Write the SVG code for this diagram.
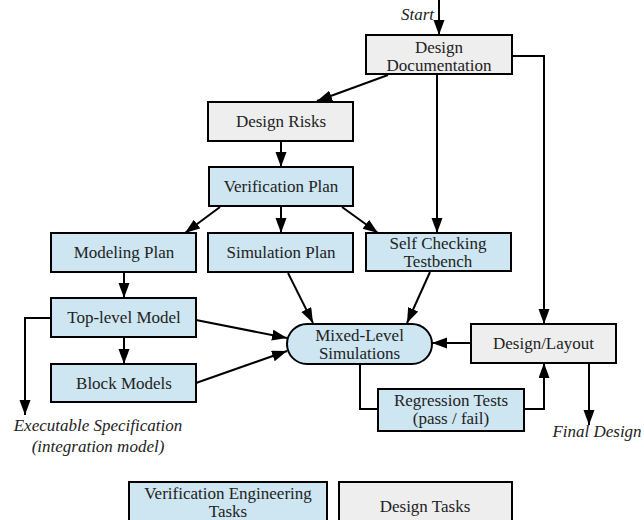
<svg xmlns="http://www.w3.org/2000/svg" width="644" height="520" viewBox="0 0 644 520" font-family="'Liberation Serif', 'Times New Roman', 'DejaVu Serif', serif">
<style>
.v{fill:#cde6f1;stroke:#000;stroke-width:2}
.d{fill:#eeeeee;stroke:#000;stroke-width:2}
text{font-size:17px;fill:#222;text-anchor:middle}
.i{font-style:italic}
.c{fill:none;stroke:#000;stroke-width:2}
</style>
<defs>
<marker id="ah" markerUnits="userSpaceOnUse" markerWidth="17" markerHeight="13" refX="15" refY="5.5" orient="auto">
<path d="M0,0 L15,5.5 L0,11 z" fill="#000"/>
</marker>
</defs>
<g id="connectors">
<path class="c" d="M439,0 V35" marker-end="url(#ah)"/>
<path class="c" d="M512,56 H544 V324" marker-end="url(#ah)"/>
<path class="c" d="M388,75 L317,101" marker-end="url(#ah)"/>
<path class="c" d="M437,74 V233" marker-end="url(#ah)"/>
<path class="c" d="M281,141 V167" marker-end="url(#ah)"/>
<path class="c" d="M220,207 L185,233" marker-end="url(#ah)"/>
<path class="c" d="M281,206 V233" marker-end="url(#ah)"/>
<path class="c" d="M342,207 L378,233" marker-end="url(#ah)"/>
<path class="c" d="M124,272 V298" marker-end="url(#ah)"/>
<path class="c" d="M124,337 V364" marker-end="url(#ah)"/>
<path class="c" d="M51,318 H25 V415" marker-end="url(#ah)"/>
<path class="c" d="M196,320 L287,338" marker-end="url(#ah)"/>
<path class="c" d="M196,383 L287,351" marker-end="url(#ah)"/>
<path class="c" d="M288,273 L313,323" marker-end="url(#ah)"/>
<path class="c" d="M430,272 L407,323" marker-end="url(#ah)"/>
<path class="c" d="M471,343 H432" marker-end="url(#ah)"/>
<path class="c" d="M360,364 V409 H378"/>
<path class="c" d="M524,409 H544 V363" marker-end="url(#ah)"/>
<path class="c" d="M589,363 V425" marker-end="url(#ah)"/>
</g>
<g id="start"><text class="i" x="434" y="20" style="text-anchor:end">Start</text></g>
<g id="design-doc"><rect class="d" x="366" y="35" width="146" height="39"/><text x="439" y="53">Design</text><text x="439" y="71">Documentation</text></g>
<g id="design-risks"><rect class="d" x="208" y="102" width="145" height="39"/><text x="281" y="127">Design Risks</text></g>
<g id="verification-plan"><rect class="v" x="209" y="167" width="144" height="39"/><text x="281" y="192">Verification Plan</text></g>
<g id="modeling-plan"><rect class="v" x="51" y="233" width="145" height="39"/><text x="124" y="258">Modeling Plan</text></g>
<g id="simulation-plan"><rect class="v" x="208" y="233" width="145" height="39"/><text x="281" y="258">Simulation Plan</text></g>
<g id="self-checking"><rect class="v" x="366" y="233" width="145" height="38"/><text x="438" y="249">Self Checking</text><text x="438" y="267">Testbench</text></g>
<g id="top-level"><rect class="v" x="51" y="298" width="145" height="39"/><text x="124" y="323">Top-level Model</text></g>
<g id="block-models"><rect class="v" x="51" y="364" width="145" height="38"/><text x="124" y="389">Block Models</text></g>
<g id="mixed-level"><rect class="v" x="287" y="324" width="145" height="40" rx="20" ry="20"/><text x="359.5" y="341">Mixed-Level</text><text x="359.5" y="359">Simulations</text></g>
<g id="design-layout"><rect class="d" x="471" y="324" width="145" height="39"/><text x="543.5" y="349">Design/Layout</text></g>
<g id="regression"><rect class="v" x="378" y="389" width="146" height="42"/><text x="451" y="406">Regression Tests</text><text x="451" y="424">(pass / fail)</text></g>
<g id="exec-spec"><text class="i" x="98" y="431">Executable Specification</text><text class="i" x="98" y="452">(integration model)</text></g>
<g id="final-design"><text class="i" x="597" y="437">Final Design</text></g>
<g id="legend-verification"><rect class="v" x="129" y="482" width="198" height="50"/><text x="228" y="499">Verification Engineering</text><text x="228" y="517">Tasks</text></g>
<g id="legend-design"><rect class="d" x="339" y="482" width="173" height="50"/><text x="425" y="512">Design Tasks</text></g>
</svg>
